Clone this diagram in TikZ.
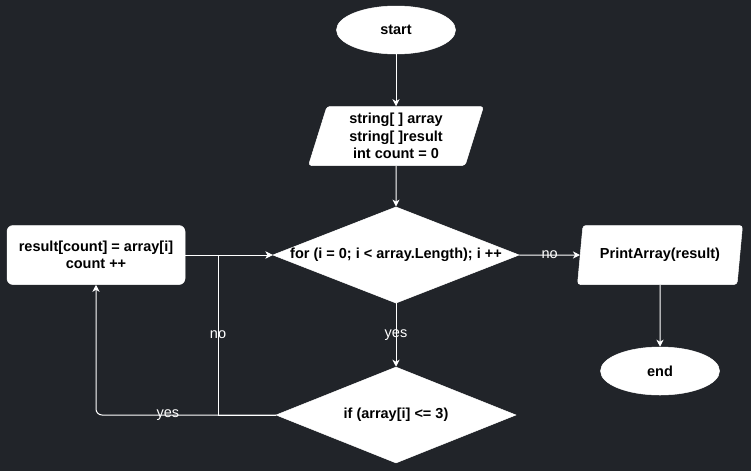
\documentclass[tikz,border=0pt]{standalone}
\usepackage{fontspec}
\setmainfont{Liberation Sans}
\usetikzlibrary{shapes.geometric,arrows.meta}
\definecolor{bg}{RGB}{33,36,41}
\begin{document}
\begin{tikzpicture}[x=1pt,y=-1pt,
  box/.style={fill=white, draw=white, line width=0.5pt, text=black, font=\fontsize{14.5}{17.5}\selectfont\bfseries, align=center, inner sep=0pt},
  term/.style={box, ellipse, minimum width=119pt, minimum height=48pt},
  io/.style={box, trapezium, trapezium left angle=68, trapezium right angle=112, trapezium stretches body, minimum height=59pt, rounded corners=3pt},
  dec/.style={box, diamond, aspect=2.56, minimum width=246pt, minimum height=96pt},
  proc/.style={box, rectangle, rounded corners=6pt, minimum width=178pt, minimum height=59pt},
  conn/.style={white, line width=1pt, -{Stealth[length=7pt,width=7pt,inset=2pt]}},
  lbl/.style={text=white, font=\fontsize{14.5}{16}\selectfont, inner sep=1pt}
]
\fill[bg] (0,0) rectangle (751,471);
\useasboundingbox (0,0) rectangle (751,471);

\node[term] (start) at (396,30) {start};
\node[io, minimum width=175pt] (in1) at (396,136) {string[ ] array\\string[ ]result\\int count = 0};
\node[dec] (for) at (396,255) {for (i = 0; i < array.Length); i ++};
\node[dec, minimum width=240pt] (if) at (396,415) {if (array[i] <= 3)};
\node[proc] (proc) at (96,255) {result[count] = array[i]\\count ++};
\node[io, minimum width=165pt] (out) at (660,255) {PrintArray(result)};
\node[term] (end) at (660,371) {end};

\coordinate (nob) at (218,415);
\coordinate (not) at (218,255);

\draw[conn] (start) -- (in1);
\draw[conn] (in1) -- (for);
\draw[conn] (for) -- node[lbl]{no} (out);
\draw[conn] (for) -- node[lbl]{yes} (if);
\draw[conn] (out) -- (end);
\draw[conn, rounded corners=6pt] (if.west) -| node[lbl, pos=0.3]{yes} (proc.south);
\draw[conn] (proc) -- (for);
\draw[conn] (if.west) -- (nob) -- node[lbl]{no} (not) -- (for.west);
\end{tikzpicture}
\end{document}
